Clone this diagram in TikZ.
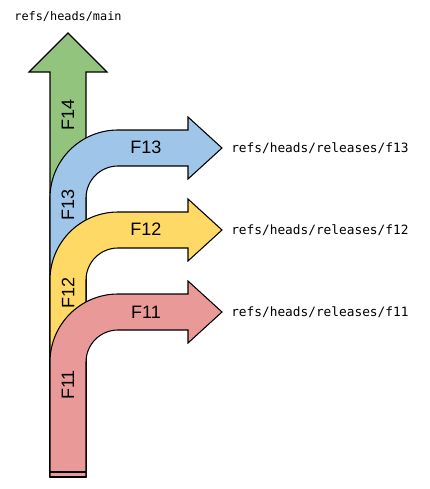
\documentclass[tikz,border=0pt]{standalone}
\usepackage{fontspec}
\setmainfont{Liberation Sans}
\newfontfamily\refmono{DejaVu Sans Mono}
\definecolor{fgreen}{HTML}{93C47D}
\definecolor{fblue}{HTML}{9FC5E8}
\definecolor{fyellow}{HTML}{FFD966}
\definecolor{fred}{HTML}{EA9999}
\begin{document}
\begin{tikzpicture}[x=0.75pt,y=-0.75pt,
  shapeline/.style={draw=black,line width=0.8pt,line join=miter},
  flabel/.style={font=\fontsize{13.5}{15}\selectfont,inner sep=0pt},
  vlabel/.style={flabel,rotate=90},
  reflabel/.style={font=\refmono\fontsize{9.6}{11}\selectfont,inner sep=0pt,anchor=west},
  mainlabel/.style={font=\refmono\fontsize{8.9}{10}\selectfont,inner sep=0pt}]
\useasboundingbox (0,0) rectangle (429,489);
% green straight arrow
\filldraw[shapeline,fill=fgreen] (50,472) -- (50,72) -- (29,72) -- (68,33) -- (107,72) -- (86,72) -- (86,472) -- cycle;
% bent arrows
\foreach \T/\col in {130/fblue,212/fyellow,294/fred}{
  \pgfmathsetmacro\cy{\T+68}
  \filldraw[shapeline,fill=\col] (50,472) -- (50,\cy) arc[start angle=180,end angle=270,radius=68]
    -- (188,\T) -- (188,\T-13) -- (222,\T+18) -- (188,\T+49) -- (188,\T+36) -- (118,\T+36)
    arc[start angle=270,end angle=180,radius=32] -- (86,477) -- (50,477) -- cycle;
}
\draw[line width=1.5pt] (50,471.5) -- (86,471.5);
\draw[line width=1.5pt] (50,476.5) -- (86,476.5);
% labels
\node[vlabel] (v14) at (68,115) {F14};
\node[vlabel] (v13) at (68,205) {F13};
\node[vlabel] (v12) at (68,293) {F12};
\node[vlabel] (v11) at (68,385) {F11};
\node[flabel] (h13) at (146,147) {F13};
\node[flabel] (h12) at (146,229) {F12};
\node[flabel] (h11) at (146,312) {F11};
\node[mainlabel] (rmain) at (68,17) {refs/heads/main};
\node[reflabel] (r13) at (231,148) {refs/heads/releases/f13};
\node[reflabel] (r12) at (231,230) {refs/heads/releases/f12};
\node[reflabel] (r11) at (231,312) {refs/heads/releases/f11};
\end{tikzpicture}
\end{document}
